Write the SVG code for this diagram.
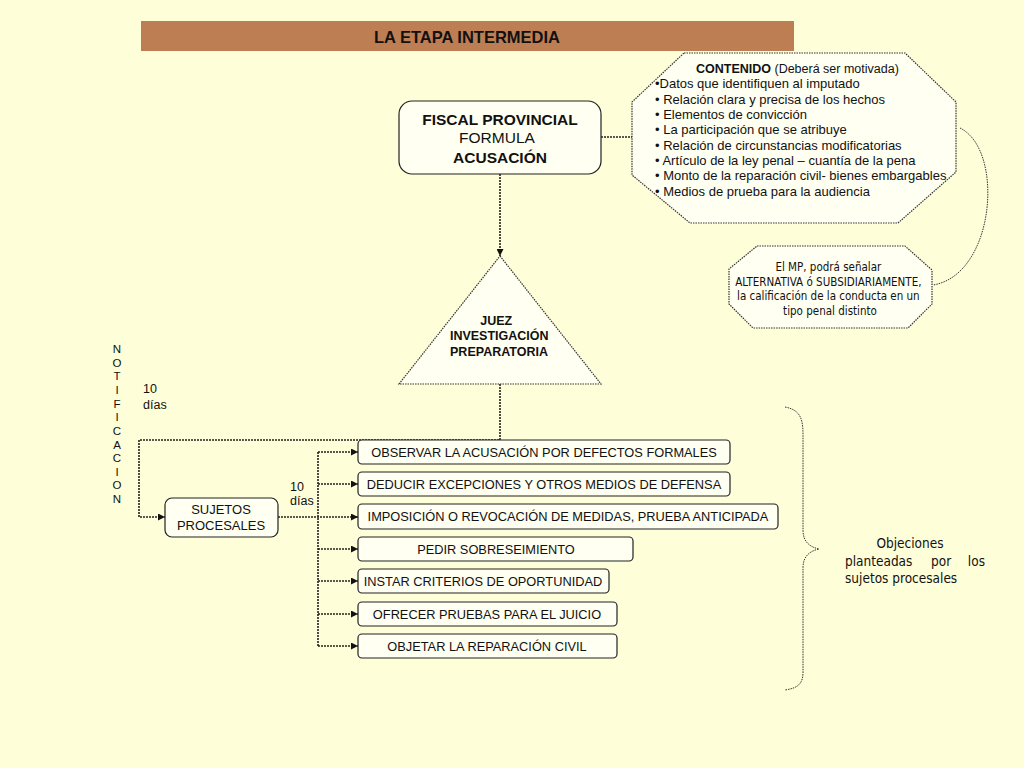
<svg xmlns="http://www.w3.org/2000/svg" width="1024" height="768" viewBox="0 0 1024 768">
<defs>
<marker id="ah" viewBox="0 0 10 10" refX="10" refY="5" markerWidth="7" markerHeight="7" markerUnits="userSpaceOnUse" orient="auto">
<path d="M0,0 L10,5 L0,10 Z" fill="#111"/>
</marker>
<style>
.bg{fill:#FEFED8}
.box{fill:#FFFFF2;stroke:#222;stroke-width:1.2}
.dot{fill:#FFFFF2;stroke:#333;stroke-width:1.2;stroke-dasharray:1.5 1}
.ln{fill:none;stroke:#222;stroke-width:1.6;stroke-dasharray:2 1}
.thin{fill:none;stroke:#333;stroke-width:1;stroke-dasharray:1.5 1}
.t{font-family:"Liberation Sans",Arial,sans-serif;fill:#111}
.tc{font-family:"DejaVu Sans Condensed","DejaVu Sans",sans-serif;fill:#111}
.b{font-weight:bold}
.m{text-anchor:middle}
</style>
</defs>
<rect class="bg" x="0" y="0" width="1024" height="768"/>
<g id="title">
<rect x="141" y="21" width="653" height="30" fill="#BE7E54"/>
<text class="t b m" x="467" y="43" font-size="16.5">LA ETAPA INTERMEDIA</text>
</g>
<g id="connectors">
<line class="ln" x1="601" y1="137" x2="632" y2="137"/>
<line class="ln" x1="500" y1="174" x2="500" y2="256" marker-end="url(#ah)"/>
<path class="thin" d="M960,128 C1005,150 995,275 933,285"/>
<polyline class="ln" points="500,384 500,440 139,440 139,517 165,517" marker-end="url(#ah)"/>
<line class="ln" x1="278" y1="517" x2="358" y2="517" marker-end="url(#ah)"/>
<line class="ln" x1="318" y1="452" x2="318" y2="646"/>
<line class="ln" x1="318" y1="452" x2="358" y2="452" marker-end="url(#ah)"/>
<line class="ln" x1="318" y1="484" x2="358" y2="484" marker-end="url(#ah)"/>
<line class="ln" x1="318" y1="549" x2="358" y2="549" marker-end="url(#ah)"/>
<line class="ln" x1="318" y1="581" x2="358" y2="581" marker-end="url(#ah)"/>
<line class="ln" x1="318" y1="614" x2="358" y2="614" marker-end="url(#ah)"/>
<line class="ln" x1="318" y1="646" x2="358" y2="646" marker-end="url(#ah)"/>
</g>
<g id="fiscal">
<rect class="box" x="399" y="101" width="202" height="73" rx="13"/>
<text class="t b m" x="500" y="125" font-size="15.5">FISCAL PROVINCIAL</text>
<text class="t m" x="497" y="143" font-size="15.5">FORMULA</text>
<text class="t b m" x="500" y="163" font-size="15.5">ACUSACIÓN</text>
</g>
<g id="contenido">
<polygon class="dot" points="684,53 905,53 956,102 956,172 898,223 690,223 632,175 632,102"/>
<text class="t" x="696" y="73" font-size="12.5"><tspan class="b">CONTENIDO</tspan> (Deberá ser motivada)</text>
<text class="t" font-size="13">
<tspan x="655" y="88">•Datos que identifiquen al imputado</tspan>
<tspan x="655" y="104">• Relación clara y precisa de los hechos</tspan>
<tspan x="655" y="119">• Elementos de convicción</tspan>
<tspan x="655" y="134">• La participación que se atribuye</tspan>
<tspan x="655" y="150">• Relación de circunstancias modificatorias</tspan>
<tspan x="655" y="165">• Artículo de la ley penal – cuantía de la pena</tspan>
<tspan x="655" y="180">• Monto de la reparación civil- bienes embargables</tspan>
<tspan x="655" y="196">• Medios de prueba para la audiencia</tspan>
</text>
</g>
<g id="alternativa">
<polygon class="dot" points="757,246 905,246 932,270 932,304 908,328 753,328 729,304 729,269"/>
<text class="tc m" font-size="11.5">
<tspan x="830" y="271">El MP, podrá señalar</tspan>
<tspan x="830" y="286">ALTERNATIVA ó SUBSIDIARIAMENTE,</tspan>
<tspan x="830" y="300">la calificación de la conducta en un</tspan>
<tspan x="830" y="315">tipo penal distinto</tspan>
</text>
</g>
<g id="juez">
<polygon class="dot" points="500,256 601,384 399,384"/>
<text class="t b m" font-size="12.5">
<tspan x="498" y="325">JUEZ</tspan>
<tspan x="501" y="340">INVESTIGACIÓN</tspan>
<tspan x="499" y="356">PREPARATORIA</tspan>
</text>
</g>
<g id="notificacion">
<text class="t m" font-size="11.5">
<tspan x="117" y="353">N</tspan><tspan x="117" y="367">O</tspan><tspan x="117" y="380">T</tspan><tspan x="117" y="394">I</tspan><tspan x="117" y="408">F</tspan><tspan x="117" y="421">I</tspan><tspan x="117" y="435">C</tspan><tspan x="117" y="449">A</tspan><tspan x="117" y="462">C</tspan><tspan x="117" y="476">I</tspan><tspan x="117" y="489">O</tspan><tspan x="117" y="503">N</tspan>
</text>
<text class="t" font-size="12.5"><tspan x="143" y="393">10</tspan><tspan x="143" y="409">días</tspan></text>
</g>
<g id="sujetos">
<rect class="box" x="165" y="498" width="113" height="39" rx="7"/>
<text class="t m" font-size="13"><tspan x="221" y="514">SUJETOS</tspan><tspan x="221" y="530">PROCESALES</tspan></text>
<text class="t" font-size="12.5"><tspan x="290" y="491">10</tspan><tspan x="290" y="505">días</tspan></text>
</g>
<g id="observar">
<rect class="box" x="358" y="440" width="372" height="24" rx="4"/>
<text class="t m" x="544" y="457" font-size="12.8">OBSERVAR LA ACUSACIÓN POR DEFECTOS FORMALES</text>
</g>
<g id="deducir">
<rect class="box" x="358" y="472" width="372" height="24" rx="4"/>
<text class="t m" x="544" y="489" font-size="12.8">DEDUCIR EXCEPCIONES Y OTROS MEDIOS DE DEFENSA</text>
</g>
<g id="imposicion">
<rect class="box" x="358" y="504" width="420" height="25" rx="4"/>
<text class="t m" x="568" y="521" font-size="12.8">IMPOSICIÓN O REVOCACIÓN DE MEDIDAS, PRUEBA ANTICIPADA</text>
</g>
<g id="pedir">
<rect class="box" x="358" y="537" width="275" height="24" rx="4"/>
<text class="t m" x="496" y="554" font-size="12.8">PEDIR SOBRESEIMIENTO</text>
</g>
<g id="instar">
<rect class="box" x="358" y="569" width="251" height="24" rx="4"/>
<text class="t m" x="483" y="586" font-size="12.8">INSTAR CRITERIOS DE OPORTUNIDAD</text>
</g>
<g id="ofrecer">
<rect class="box" x="358" y="602" width="259" height="24" rx="4"/>
<text class="t m" x="487" y="619" font-size="12.8">OFRECER PRUEBAS PARA EL JUICIO</text>
</g>
<g id="objetar">
<rect class="box" x="358" y="634" width="259" height="24" rx="4"/>
<text class="t m" x="487" y="651" font-size="12.8">OBJETAR LA REPARACIÓN CIVIL</text>
</g>
<g id="objeciones">
<path class="thin" d="M785,407 C800,410 803,418 803,435 L803,530 C803,542 810,547 819,549 C810,551 803,556 803,568 L803,672 C803,684 798,688 785,690"/>
<text class="tc m" x="910" y="548" font-size="13.5">Objeciones</text>
<text class="tc" x="845" y="566" font-size="13.5">planteadas</text>
<text class="tc" x="931" y="566" font-size="13.5">por</text>
<text class="tc" x="985" y="566" font-size="13.5" text-anchor="end">los</text>
<text class="tc" x="845" y="583" font-size="13.5">sujetos procesales</text>
</g>
</svg>
